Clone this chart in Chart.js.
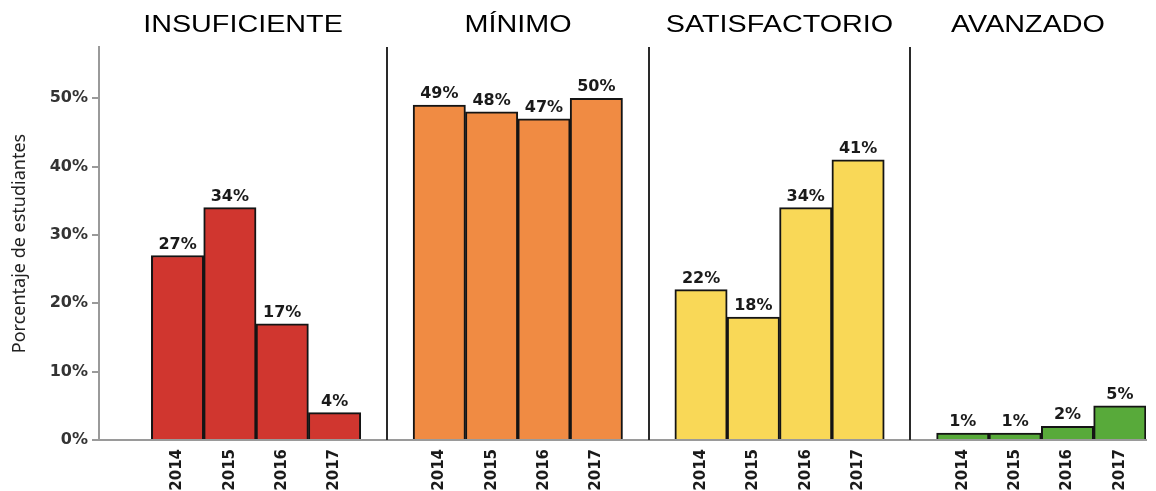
<!DOCTYPE html>
<html>
<head>
<meta charset="utf-8">
<script src="https://cdn.jsdelivr.net/npm/chart.js@4.4.1/dist/chart.umd.min.js"></script>
<style>
  html, body { margin: 0; padding: 0; background: #fff; }
  #chart { display: block; }
</style>
</head>
<body>
<canvas id="chart" width="1156" height="491"></canvas>
<script>
// Levels (panels) and years
const levels = ['INSUFICIENTE', 'MÍNIMO', 'SATISFACTORIO', 'AVANZADO'];
const years = ['2014', '2015', '2016', '2017'];

// Percent of students per level, 2014-2017
const insuficiente = [27, 34, 17, 4];
const minimo = [49, 48, 47, 50];
const satisfactorio = [22, 18, 34, 41];
const avanzado = [1, 1, 2, 5];

const levelColors = ['#d0362f', '#f08b43', '#f9d857', '#58aa3a'];
const yTicks = [0, 10, 20, 30, 40, 50];

// Build slot labels: a blank slot before the first panel and between panels
const levelValues = [insuficiente, minimo, satisfactorio, avanzado];
const slotLabels = [];
const gapSlots = [];
const panelSlots = [];
levels.forEach((lvl, i) => {
  if (i > 0) gapSlots.push(slotLabels.length);
  slotLabels.push('');
  const slots = [];
  years.forEach(y => { slots.push(slotLabels.length); slotLabels.push(y); });
  panelSlots.push(slots);
});

const datasets = levels.map((lvl, i) => {
  const data = slotLabels.map(() => null);
  panelSlots[i].forEach((s, j) => { data[s] = levelValues[i][j]; });
  return {
    label: lvl,
    data: data,
    backgroundColor: levelColors[i],
    borderColor: '#141414',
    borderWidth: 2,
    barPercentage: 1,
    categoryPercentage: 1,
    grouped: false
  };
});

// Panel separators, titles and value labels
const panelPlugin = {
  id: 'panelPlugin',
  afterDatasetsDraw(chart) {
    const ctx = chart.ctx;
    const x = chart.scales.x;
    const area = chart.chartArea;
    ctx.save();

    // separators
    const sepX = gapSlots.map(s => Math.round(x.getPixelForValue(s)));
    ctx.strokeStyle = '#2a2a2a';
    ctx.lineWidth = 2;
    sepX.forEach(px => {
      ctx.beginPath();
      ctx.moveTo(px, area.top);
      ctx.lineTo(px, area.bottom);
      ctx.stroke();
    });

    // value labels
    ctx.fillStyle = '#1a1a1a';
    ctx.font = 'bold 16px "DejaVu Sans"';
    ctx.textAlign = 'center';
    ctx.textBaseline = 'bottom';
    chart.data.datasets.forEach((ds, i) => {
      const meta = chart.getDatasetMeta(i);
      meta.data.forEach((el, j) => {
        if (ds.data[j] === null) return;
        ctx.fillText(ds.data[j] + '%', el.x, el.y - 3);
      });
    });

    // panel titles, centred between separators
    const edges = [area.left].concat(sepX, [area.right]);
    ctx.font = '23px "Liberation Sans"';
    ctx.fillStyle = '#000';
    ctx.textBaseline = 'middle';
    levels.forEach((lvl, i) => {
      const cx = (edges[i] + edges[i + 1]) / 2;
      ctx.save();
      ctx.translate(cx, 26);
      ctx.scale(1.25, 1);
      ctx.fillText(lvl, 0, 0);
      ctx.restore();
    });
    ctx.restore();
  }
};

new Chart(document.getElementById('chart'), {
  type: 'bar',
  data: { labels: slotLabels, datasets: datasets },
  options: {
    responsive: false,
    animation: false,
    layout: { padding: { top: 47, right: 10, bottom: 0, left: 0 } },
    plugins: {
      legend: { display: false },
      tooltip: { enabled: false }
    },
    scales: {
      x: {
        grid: { display: false, drawTicks: false },
        border: { display: true, color: '#9a9a9a', width: 2 },
        ticks: {
          autoSkip: false,
          maxRotation: 90,
          minRotation: 90,
          padding: 9,
          color: '#1a1a1a',
          font: { family: '"DejaVu Sans"', size: 15, weight: 'bold' }
        },
        afterFit(scale) { scale.height = 51; }
      },
      y: {
        min: 0,
        max: 57.5,
        afterBuildTicks(scale) { scale.ticks = yTicks.map(v => ({ value: v })); },
        grid: { drawOnChartArea: false, tickLength: 7, color: '#9a9a9a', lineWidth: 2 },
        border: { display: true, color: '#9a9a9a', width: 2 },
        ticks: {
          padding: 4,
          color: '#333',
          font: { family: '"DejaVu Sans"', size: 16, weight: 'bold' },
          callback: v => v + '%'
        },
        title: {
          display: true,
          text: 'Porcentaje de estudiantes',
          color: '#222',
          font: { family: '"Noto Sans"', size: 18 },
          padding: { top: 9, bottom: 0 }
        },
        afterFit(scale) { scale.width = 99; }
      }
    }
  },
  plugins: [panelPlugin]
});
</script>
</body>
</html>
